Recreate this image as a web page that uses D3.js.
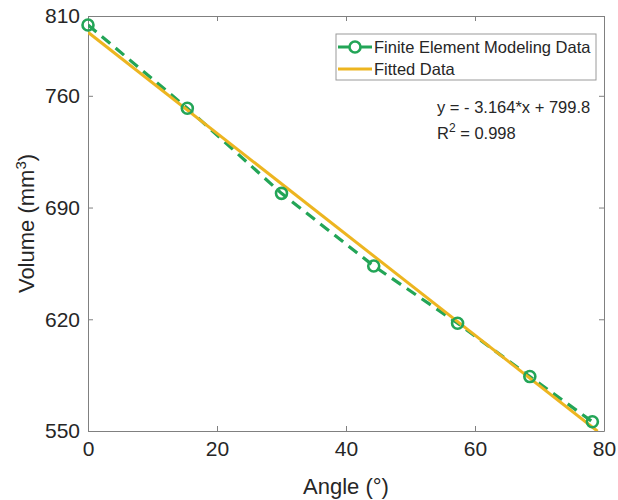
<!DOCTYPE html>
<html>
<head>
<meta charset="utf-8">
<script src="https://cdn.jsdelivr.net/npm/d3@7"></script>
<style>
    body { margin: 0; background: #fff; }
    svg { display: block; font-family: Arial, "Liberation Sans", sans-serif; }
</style>
</head>
<body>
<div id="chart"></div>
<script>
// Finite element data points
const angles = [0, 15.4, 30, 44.3, 57.3, 68.5, 78.2];
const volumes = [804.4, 752.2, 698.9, 653.4, 617.5, 584.1, 555.8];

// Fitted line y = -3.164*x + 799.8
const fitSlope = -3.164;
const fitIntercept = 799.8;
const fitRange = [0, 79];

const xTicks = [0, 20, 40, 60, 80];
const yTicks = [550, 620, 690, 760, 810];

const width = 618;
const height = 500;
const marginTop = 16;
const marginRight = 14;
const marginBottom = 69;
const marginLeft = 88;

const green = '#23a557';
const yellow = '#edb520';
const ink = '#262626';

const svg = d3.select('#chart')
    .append('svg')
    .attr('width', width)
    .attr('height', height)
    .attr('viewBox', [0, 0, width, height]);

const x = d3.scaleLinear()
    .domain([0, 80])
    .range([marginLeft, width - marginRight]);

const y = d3.scaleLinear()
    .domain([550, 810])
    .range([height - marginBottom, marginTop]);

svg.append('defs').append('clipPath')
    .attr('id', 'plot-clip')
    .append('rect')
    .attr('x', marginLeft)
    .attr('y', marginTop)
    .attr('width', width - marginLeft - marginRight)
    .attr('height', height - marginTop - marginBottom);

// Axes (ticks pointing inward, box on all sides)
const tickLen = 5;
const styleAxis = g => {
    g.select('.domain').attr('stroke', '#808080');
    g.selectAll('.tick line').attr('stroke', '#808080');
    g.selectAll('.tick text')
        .attr('fill', ink)
        .style('font-size', '21px');
};

svg.append('g')
    .attr('transform', `translate(0,${height - marginBottom})`)
    .call(d3.axisBottom(x).tickValues(xTicks).tickSizeInner(-tickLen).tickSizeOuter(0).tickPadding(10))
    .call(styleAxis);

svg.append('g')
    .attr('transform', `translate(0,${marginTop})`)
    .call(d3.axisTop(x).tickValues(xTicks).tickSizeInner(-tickLen).tickSizeOuter(0).tickFormat(''))
    .call(styleAxis);

svg.append('g')
    .attr('transform', `translate(${marginLeft},0)`)
    .call(d3.axisLeft(y).tickValues(yTicks).tickSizeInner(-tickLen).tickSizeOuter(0).tickPadding(8))
    .call(styleAxis);

svg.append('g')
    .attr('transform', `translate(${width - marginRight},0)`)
    .call(d3.axisRight(y).tickValues(yTicks).tickSizeInner(-tickLen).tickSizeOuter(0).tickFormat(''))
    .call(styleAxis);

const plot = svg.append('g').attr('clip-path', 'url(#plot-clip)');

// FEM data: dashed green line with hollow circles
const pts = angles.map((a, i) => [a, volumes[i]]);
const line = d3.line().x(d => x(d[0])).y(d => y(d[1]));

plot.append('path')
    .datum(pts)
    .attr('d', line)
    .attr('fill', 'none')
    .attr('stroke', green)
    .attr('stroke-width', 3.2)
    .attr('stroke-dasharray', '11,7');

// Fitted line
const fitPts = fitRange.map(a => [a, fitSlope * a + fitIntercept]);
plot.append('path')
    .datum(fitPts)
    .attr('d', line)
    .attr('fill', 'none')
    .attr('stroke', yellow)
    .attr('stroke-width', 3);

svg.append('g')
    .selectAll('circle')
    .data(pts)
    .join('circle')
    .attr('cx', d => x(d[0]))
    .attr('cy', d => y(d[1]))
    .attr('r', 5.5)
    .attr('fill', 'none')
    .attr('stroke', green)
    .attr('stroke-width', 2.6);

// Legend
const legend = svg.append('g').attr('transform', 'translate(336,34)');
legend.append('rect')
    .attr('width', 260)
    .attr('height', 46)
    .attr('fill', '#fff')
    .attr('stroke', '#9a9a9a');

legend.append('line')
    .attr('x1', 2).attr('x2', 36).attr('y1', 13).attr('y2', 13)
    .attr('stroke', green).attr('stroke-width', 3.2);
legend.append('circle')
    .attr('cx', 19).attr('cy', 13).attr('r', 5.5)
    .attr('fill', '#fff').attr('stroke', green).attr('stroke-width', 2.6);
legend.append('line')
    .attr('x1', 2).attr('x2', 36).attr('y1', 35).attr('y2', 35)
    .attr('stroke', yellow).attr('stroke-width', 3);

legend.selectAll('text.item')
    .data(['Finite Element Modeling Data', 'Fitted Data'])
    .join('text')
    .attr('class', 'item')
    .attr('x', 38)
    .attr('y', (d, i) => 13 + i * 22)
    .attr('dy', '0.35em')
    .attr('fill', ink)
    .style('font-size', '16.5px')
    .text(d => d);

// Fit equation annotation
svg.append('text')
    .attr('x', 437)
    .attr('y', 113)
    .attr('fill', ink)
    .style('font-size', '16.5px')
    .text('y = - 3.164*x + 799.8');

const r2 = svg.append('text')
    .attr('x', 437)
    .attr('y', 139)
    .attr('fill', ink)
    .style('font-size', '16.5px');
r2.append('tspan').text('R');
r2.append('tspan').attr('dy', -7).style('font-size', '12px').text('2');
r2.append('tspan').attr('dy', 7).text(' = 0.998');

// Axis labels
svg.append('text')
    .attr('x', (marginLeft + width - marginRight) / 2)
    .attr('y', 494)
    .attr('text-anchor', 'middle')
    .attr('fill', ink)
    .style('font-size', '22px')
    .text('Angle (°)');

const yl = svg.append('text')
    .attr('transform', `translate(34,${(marginTop + height - marginBottom) / 2}) rotate(-90)`)
    .attr('text-anchor', 'middle')
    .attr('fill', ink)
    .style('font-size', '22px');
yl.append('tspan').text('Volume (mm');
yl.append('tspan').attr('dy', -8).style('font-size', '15px').text('3');
yl.append('tspan').attr('dy', 8).text(')');
</script>
</body>
</html>
